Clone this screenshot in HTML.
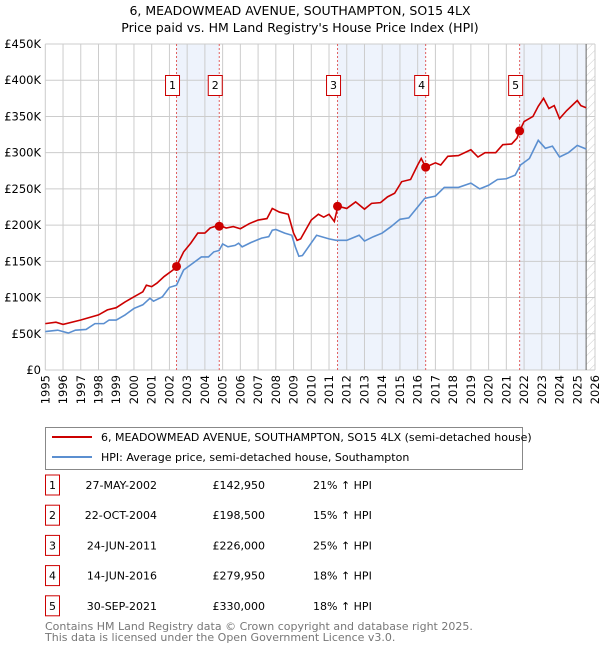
<!DOCTYPE html>
<html><head><meta charset="utf-8"><style>
body{margin:0;background:#fff;font-family:"Liberation Sans","DejaVu Sans",sans-serif;}
svg text{font-family:"DejaVu Sans","Liberation Sans",sans-serif;}
</style></head><body>
<svg id="chart" width="600" height="650" viewBox="0 0 600 650" xmlns="http://www.w3.org/2000/svg">
<defs><pattern id="hatch" width="6" height="6" patternUnits="userSpaceOnUse" patternTransform="rotate(45)"><line x1="0" y1="0" x2="0" y2="6" stroke="#ccc" stroke-width="1"/></pattern></defs>
<text x="300" y="15" text-anchor="middle" font-size="12.5" fill="#000">6, MEADOWMEAD AVENUE, SOUTHAMPTON, SO15 4LX</text>
<text x="300" y="32" text-anchor="middle" font-size="12.5" fill="#000">Price paid vs. HM Land Registry's House Price Index (HPI)</text>
<g id="plot"></g>
<g>
<rect x="45.5" y="427.5" width="477" height="42" fill="#fff" stroke="#888"/>
<line x1="52" y1="437" x2="92" y2="437" stroke="#cc0000" stroke-width="2"/>
<text x="101" y="441" font-size="11">6, MEADOWMEAD AVENUE, SOUTHAMPTON, SO15 4LX (semi-detached house)</text>
<line x1="52" y1="457" x2="92" y2="457" stroke="#5b8fd0" stroke-width="2"/>
<text x="101" y="461" font-size="11">HPI: Average price, semi-detached house, Southampton</text>
</g>
<g id="table"></g>
<text x="45" y="630" font-size="11" fill="#777">Contains HM Land Registry data © Crown copyright and database right 2025.</text>
<text x="45" y="641" font-size="11" fill="#777">This data is licensed under the Open Government Licence v3.0.</text>
</svg>
<script>
const hpiYears=[1995,1995.7,1996.3,1996.7,1997.3,1997.8,1998.3,1998.6,1999,1999.5,2000,2000.5,2000.9,2001.1,2001.6,2002,2002.4,2002.8,2003.3,2003.8,2004.2,2004.5,2004.8,2005,2005.3,2005.7,2005.9,2006.1,2006.6,2007.2,2007.6,2007.8,2008,2008.5,2008.9,2009.1,2009.3,2009.5,2010.3,2011,2011.4,2012,2012.7,2013,2013.5,2014,2014.5,2015,2015.5,2016,2016.4,2017,2017.5,2018.3,2019,2019.5,2020,2020.5,2021,2021.5,2021.8,2022.3,2022.8,2023.2,2023.6,2024,2024.5,2025,2025.5];
const hpiValues=[53,55,51,55,56,64,64,69,69,76,85,90,99,95,101,114,117,138,147,156,156,163,165,174,170,172,175,170,176,182,184,193,194,189,186,170,157,158,186,181,179,179,186,178,184,189,198,208,210,225,237,240,252,252,258,250,255,263,264,269,283,292,317,306,309,294,300,310,305];
const priceYears=[1995,1995.6,1996,1997,1998,1998.5,1999,1999.5,2000,2000.5,2000.7,2001,2001.3,2001.7,2002.2,2002.4,2002.8,2003.2,2003.6,2004,2004.3,2004.8,2005.2,2005.6,2006,2006.5,2007,2007.5,2007.8,2008.2,2008.7,2009,2009.2,2009.4,2010,2010.4,2010.7,2011,2011.3,2011.5,2012,2012.5,2013,2013.4,2013.9,2014.3,2014.7,2015.1,2015.6,2016,2016.2,2016.45,2017,2017.3,2017.7,2018.3,2019,2019.4,2019.8,2020.4,2020.8,2021.3,2021.6,2021.75,2022,2022.5,2022.8,2023.1,2023.4,2023.7,2024,2024.4,2025,2025.2,2025.5];
const priceValues=[64,66,63,69,76,83,86,94,101,108,117,115,120,129,138,143,163,175,189,189,196,200,196,198,195,202,207,209,223,218,215,189,179,181,207,215,211,215,205,226,223,232,222,230,231,239,244,260,263,283,292,280,286,283,295,296,304,294,300,300,311,312,320,330,343,350,364,375,361,365,347,358,372,365,362];
const saleDates=[2002.4,2004.81,2011.48,2016.45,2021.75];
const salePrices=[142.95,198.5,226,279.95,330];
const saleLabels=["1","2","3","4","5"];
const saleDateText=["27-MAY-2002","22-OCT-2004","24-JUN-2011","14-JUN-2016","30-SEP-2021"];
const salePriceText=["£142,950","£198,500","£226,000","£279,950","£330,000"];
const saleHpiText=["21% ↑ HPI","15% ↑ HPI","25% ↑ HPI","18% ↑ HPI","18% ↑ HPI"];
const yTicks=[0,50,100,150,200,250,300,350,400,450];
const yTickLabels=["£0","£50K","£100K","£150K","£200K","£250K","£300K","£350K","£400K","£450K"];
const xTicks=[1995,1996,1997,1998,1999,2000,2001,2002,2003,2004,2005,2006,2007,2008,2009,2010,2011,2012,2013,2014,2015,2016,2017,2018,2019,2020,2021,2022,2023,2024,2025,2026];

const X0=45.3,X1=595,Y0=370,Y1=44;
const xs=y=>X0+(y-1995)/(2026-1995)*(X1-X0);
const ys=v=>Y0-v/450*(Y0-Y1);
const NS="http://www.w3.org/2000/svg";
const plot=document.getElementById('plot');
function mk(tag,attrs,parent,text){const e=document.createElementNS(NS,tag);for(const k in attrs)e.setAttribute(k,attrs[k]);if(text!==undefined)e.textContent=text;(parent||plot).appendChild(e);return e;}

// shaded bands
const bands=[[saleDates[0],saleDates[1]],[saleDates[2],saleDates[3]],[saleDates[4],2025.5]];
bands.forEach((b,i)=>{const r=mk('rect',{x:xs(b[0]),y:Y1,width:xs(b[1])-xs(b[0]),height:Y0-Y1,fill:'#eef3fc'});

});
const h=mk('rect',{x:xs(2025.5),y:Y1,width:X1-xs(2025.5),height:Y0-Y1,fill:'url(#hatch)'});


// grid
xTicks.forEach(t=>{const l=mk('line',{x1:xs(t),x2:xs(t),y1:Y1,y2:Y0,stroke:'#ccc','stroke-width':1});


const tx=mk('text',{x:0,y:0,'font-size':11.5,'text-anchor':'end',transform:`translate(${xs(t)+4},375) rotate(-90)`},plot,String(t));

});
yTicks.forEach((t,i)=>{const l=mk('line',{x1:X0,x2:X1,y1:ys(t),y2:ys(t),stroke:'#ccc','stroke-width':1});


const tx=mk('text',{x:41,y:ys(t)+4,'font-size':11.5,'text-anchor':'end'},plot,yTickLabels[i]);

});
const nl=mk('line',{x1:xs(2025.5),x2:xs(2025.5),y1:Y1,y2:Y0,stroke:'#666','stroke-width':1});


// sale vlines
saleDates.forEach(d=>{const l=mk('line',{x1:xs(d),x2:xs(d),y1:Y1,y2:Y0,stroke:'#e06060','stroke-width':1,'stroke-dasharray':'2,2'});

});
// series
const hp=mk('polyline',{points:hpiYears.map((y,i)=>xs(y)+','+ys(hpiValues[i])).join(' '),fill:'none',stroke:'#5b8fd0','stroke-width':1.6});


const pp=mk('polyline',{points:priceYears.map((y,i)=>xs(y)+','+ys(priceValues[i])).join(' '),fill:'none',stroke:'#cc0000','stroke-width':1.6});


saleDates.forEach((d,i)=>{const c=mk('circle',{cx:xs(d),cy:ys(salePrices[i]),r:4.5,fill:'#cc0000'});


const bx=xs(d)-4;
const r=mk('rect',{x:bx-7,y:75.5,width:14,height:20,fill:'#fff',stroke:'#cc0000'});


const t=mk('text',{x:bx,y:89,'font-size':11,'text-anchor':'middle'},plot,saleLabels[i]);

});
// table
const tb=document.getElementById('table');
saleLabels.forEach((s,i)=>{const y=483+i*30.2;
const r=mk('rect',{x:45.5,y:y-8,width:14,height:20,fill:'#fff',stroke:'#cc0000'},tb);


const t0=mk('text',{x:52.5,y:y+6,'font-size':11,'text-anchor':'middle'},tb,s);


const t1=mk('text',{x:157,y:y+6,'font-size':11,'text-anchor':'end'},tb,saleDateText[i]);


const t2=mk('text',{x:265,y:y+6,'font-size':11,'text-anchor':'end'},tb,salePriceText[i]);


const t3=mk('text',{x:313,y:y+6,'font-size':11},tb,saleHpiText[i]);

});
</script>
</body></html>
